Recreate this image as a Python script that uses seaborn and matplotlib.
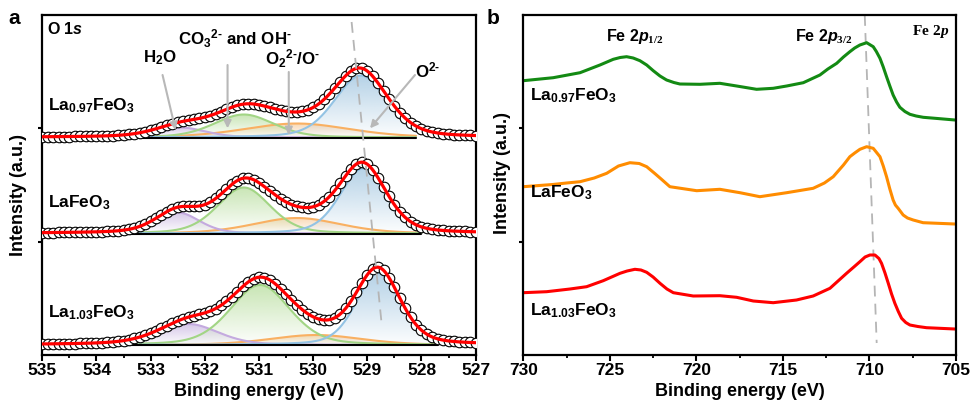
import numpy as np
import matplotlib
matplotlib.use("Agg")
import matplotlib.pyplot as plt
import seaborn as sns
from matplotlib.colors import LinearSegmentedColormap, to_rgb
from matplotlib.ticker import MultipleLocator

# ---------------- Panel a : O 1s fit (per sample: La0.97, LaFeO3, La1.03) ----------------
o1s_samples = ["La$_{0.97}$FeO$_3$", "LaFeO$_3$", "La$_{1.03}$FeO$_3$"]
o1s_offsets = [217.5, 121.5, 10.0]
o1s_bg_start = [533.4, 533.9, 533.7]
o1s_bg_end = [528.1, 528.0, 527.7]
# component peaks: center (eV), height, FWHM (eV)
latticeO_center = [529.12, 529.08, 528.80]
latticeO_height = [62.0, 65.0, 72.0]
latticeO_fwhm = [1.15, 1.00, 0.95]
peroxide_center = [530.30, 530.30, 529.95]
peroxide_height = [14.0, 15.5, 10.0]
peroxide_fwhm = [2.30, 1.90, 2.00]
hydroxyl_center = [531.28, 531.28, 530.98]
hydroxyl_height = [23.0, 46.0, 60.0]
hydroxyl_fwhm = [1.30, 1.15, 1.30]
water_center = [532.45, 532.50, 532.30]
water_height = [10.0, 21.0, 21.0]
water_fwhm = [1.10, 0.95, 1.30]

# ---------------- Panel b : Fe 2p spectra ----------------
fe_green_x = [730.0, 728.27, 726.72, 725.57, 724.80, 724.40, 724.03, 723.65, 723.26, 722.87,
              722.49, 722.10, 721.72, 721.30, 720.95, 719.79, 718.64, 717.67, 716.52, 715.56,
              714.78, 713.82, 712.86, 712.40, 711.89, 711.50, 711.13, 710.85, 710.55, 710.16,
              709.78, 709.60, 709.39, 709.20, 709.01, 708.82, 708.63, 708.43, 708.24, 707.95,
              707.66, 707.30, 706.89, 705.93, 705.06]
fe_green_y = [274.3, 277.3, 282.3, 290.0, 295.7, 297.5, 298.3, 297.0, 294.3, 290.0,
              284.3, 279.0, 275.0, 272.5, 271.0, 270.7, 271.7, 269.0, 265.7, 266.7,
              269.0, 272.3, 280.0, 286.0, 291.7, 298.0, 303.3, 307.0, 310.0, 312.3,
              308.3, 303.5, 296.7, 288.0, 278.3, 269.0, 260.0, 253.0, 247.7, 243.5,
              240.7, 239.0, 237.7, 236.3, 235.0]
fe_orange_x = [730.0, 728.30, 727.50, 726.72, 725.90, 725.18, 724.50, 723.84, 723.30, 722.87,
               722.40, 722.00, 721.53, 719.98, 718.64, 717.48, 716.33, 714.78, 713.25, 712.60,
               712.09, 711.50, 711.13, 710.85, 710.55, 710.16, 709.78, 709.39, 709.20, 709.01,
               708.82, 708.63, 708.50, 708.34, 708.05, 707.80, 707.47, 706.90, 705.06]
fe_orange_y = [168.3, 170.5, 172.0, 173.3, 177.0, 181.7, 189.0, 192.3, 191.5, 188.3,
               181.5, 175.5, 168.3, 164.3, 165.7, 162.3, 158.3, 162.3, 166.7, 172.0,
               178.3, 190.0, 198.3, 202.0, 205.7, 208.3, 206.7, 198.3, 189.0, 178.3,
               166.0, 155.0, 150.0, 146.7, 140.0, 137.0, 135.0, 132.3, 131.0]
fe_red_x = [730.0, 728.65, 727.30, 726.34, 725.38, 724.41, 724.00, 723.55, 723.20, 722.87,
            722.50, 722.10, 721.70, 721.33, 720.18, 718.64, 717.67, 716.71, 715.56, 714.21,
            713.25, 712.28, 711.32, 710.90, 710.55, 710.25, 709.97, 709.68, 709.45, 709.30,
            709.10, 708.91, 708.72, 708.53, 708.33, 708.14, 707.90, 707.66, 707.20, 706.70,
            705.06]
fe_red_y = [62.3, 63.3, 66.0, 68.3, 74.3, 81.7, 84.0, 85.7, 85.0, 82.7,
            78.0, 71.7, 66.0, 62.3, 59.0, 59.3, 57.7, 54.0, 52.3, 55.0,
            59.0, 66.7, 81.7, 88.0, 93.3, 98.0, 100.0, 100.0, 96.5, 91.7,
            82.0, 71.7, 61.0, 51.7, 43.5, 36.7, 32.5, 30.0, 28.5, 27.3,
            26.0]
fe_samples = ["La$_{0.97}$FeO$_3$", "LaFeO$_3$", "La$_{1.03}$FeO$_3$"]

# ---------------- style ----------------
sns.set_theme(style="ticks")
plt.rcParams["font.family"] = ["Liberation Sans", "DejaVu Sans"]
plt.rcParams["font.weight"] = "bold"
plt.rcParams["axes.labelweight"] = "bold"
plt.rcParams["text.color"] = "black"
plt.rcParams["axes.labelcolor"] = "black"
plt.rcParams["xtick.color"] = "black"
plt.rcParams["ytick.color"] = "black"
plt.rcParams["mathtext.fontset"] = "custom"
plt.rcParams["mathtext.rm"] = "Liberation Sans:bold"
plt.rcParams["mathtext.bf"] = "Liberation Sans:bold"
plt.rcParams["mathtext.it"] = "Liberation Sans:italic:bold"
plt.rcParams["mathtext.sf"] = "Liberation Serif:bold"
plt.rcParams["mathtext.cal"] = "Liberation Serif:italic:bold"

fig = plt.figure(figsize=(9.71, 4.0), dpi=100)
ax1 = fig.add_axes([0.04356, 0.1125, 0.4463, 0.85])
ax2 = fig.add_axes([0.5389, 0.1125, 0.4456, 0.85])


def pv(x, c, h, w, eta=0.3):
    d2 = ((x - c) / w) ** 2
    return h * ((1 - eta) * np.exp(-4 * np.log(2) * d2) + eta / (1 + 4 * d2))


def gradient_fill(ax, x, base, y, color, zorder):
    top = base + y.max()
    poly = ax.fill_between(x, base, base + y, facecolor="none", edgecolor="none", zorder=zorder)
    r, g, b = to_rgb(color)
    cmap = LinearSegmentedColormap.from_list("g", [(r, g, b, 0.03), (r, g, b, 0.9)])
    grad = np.linspace(0, 1, 128).reshape(-1, 1)
    im = ax.imshow(grad, cmap=cmap, aspect="auto", origin="lower",
                   extent=[x.min(), x.max(), base, top], zorder=zorder, interpolation="bilinear")
    im.set_clip_path(poly.get_paths()[0], transform=ax.transData)


comp_line = {"water": "#c4aadf", "hydroxyl": "#a2d585", "peroxide": "#f9b062", "lattice": "#93c3e4"}
comp_fill = {"water": "#d2c2e6", "hydroxyl": "#c3e3ad", "peroxide": "#f8d3ab", "lattice": "#adcde4"}

x_fit = np.linspace(535, 527, 801)
x_pts = np.round(np.arange(535.0, 526.95, -0.1), 2)

for i in range(3):
    base = o1s_offsets[i]
    comps = {
        "peroxide": (peroxide_center[i], peroxide_height[i], peroxide_fwhm[i]),
        "water": (water_center[i], water_height[i], water_fwhm[i]),
        "hydroxyl": (hydroxyl_center[i], hydroxyl_height[i], hydroxyl_fwhm[i]),
        "lattice": (latticeO_center[i], latticeO_height[i], latticeO_fwhm[i]),
    }
    mask = (x_fit <= o1s_bg_start[i]) & (x_fit >= o1s_bg_end[i])
    xc = x_fit[mask]
    for k, (c, h, w) in comps.items():
        yc = pv(xc, c, h, w)
        gradient_fill(ax1, xc, base, yc, comp_fill[k], zorder=1)
    for k, (c, h, w) in comps.items():
        yc = pv(xc, c, h, w)
        sns.lineplot(x=xc, y=base + yc, ax=ax1, color=comp_line[k], lw=1.5, sort=False,
                     estimator=None, zorder=2)
    ax1.plot([o1s_bg_start[i], o1s_bg_end[i]], [base, base], color="black", lw=1.5, zorder=3)
    env_pts = base + sum(pv(x_pts, *v) for v in comps.values())
    env_fit = base + sum(pv(x_fit, *v) for v in comps.values())
    ax1.plot(x_pts, env_pts, ls="none", marker="o", ms=7.6, mfc="white", mec="black",
             mew=0.8, zorder=4)
    sns.lineplot(x=x_fit, y=env_fit, ax=ax1, color="#ff0000", lw=2.3, sort=False,
                 estimator=None, zorder=5)

# dashed guide
ax1.plot([529.29, 528.73], [333, 28], color="#b5b5b5", lw=1.3, ls=(0, (6, 4)), zorder=6)

# labels panel a
ax1.text(534.91, 326, "O $\\mathit{1s}$", fontsize=11.5, fontweight="bold", ha="left", va="center")
lab_y_a = [249, 152, 42]
for i in range(3):
    ax1.text(534.9, lab_y_a[i], o1s_samples[i], fontsize=12.5, fontweight="bold",
             ha="left", va="center", zorder=7)

arrow_kw = dict(arrowstyle="-|>", color="#b8b8b8", lw=1.5, mutation_scale=11,
                shrinkA=0, shrinkB=0)
ann_fs = 12.2
ax1.text(532.83, 297, "H$_2$O", fontsize=ann_fs, ha="center", va="center")
ax1.annotate("", xy=(532.54, 225), xytext=(532.78, 280), arrowprops=arrow_kw, zorder=6)
ax1.text(531.45, 316, "CO$_3$$^{2\\text{-}}$ and OH$^{\\text{-}}$", fontsize=ann_fs,
         ha="center", va="center")
ax1.annotate("", xy=(531.58, 226.7), xytext=(531.58, 290), arrowprops=arrow_kw, zorder=6)
ax1.text(530.39, 296, "O$_2$$^{2\\text{-}}$/O$^{\\text{-}}$", fontsize=ann_fs, ha="center", va="center")
ax1.annotate("", xy=(530.45, 220), xytext=(530.45, 283), arrowprops=arrow_kw, zorder=6)
ax1.text(527.88, 285, "O$^{2\\text{-}}$", fontsize=ann_fs, ha="center", va="center")
ax1.annotate("", xy=(528.95, 226.7), xytext=(528.12, 280), arrowprops=arrow_kw, zorder=6)

ax1.set_xlim(535, 527)
ax1.set_ylim(0, 340)
ax1.set_xticks(list(range(527, 536)))
ax1.xaxis.set_minor_locator(MultipleLocator(0.5))

# ---------------- panel b ----------------
sns.lineplot(x=fe_green_x, y=fe_green_y, ax=ax2, color="#138a13", lw=2.2, sort=False, estimator=None)
sns.lineplot(x=fe_orange_x, y=fe_orange_y, ax=ax2, color="#ff8c00", lw=2.2, sort=False, estimator=None)
sns.lineplot(x=fe_red_x, y=fe_red_y, ax=ax2, color="#ff0000", lw=2.2, sort=False, estimator=None)
ax2.plot([710.27, 709.58], [340, 12], color="#b5b5b5", lw=1.3, ls=(0, (6, 4)), zorder=1)

ax2.text(723.55, 318, "Fe 2$p_{\\mathsf{1/2}}$", fontsize=11.5, ha="center", va="center")
ax2.text(712.63, 318, "Fe 2$p_{\\mathsf{3/2}}$", fontsize=11.5, ha="center", va="center")
ax2.text(706.45, 324, "$\\mathsf{Fe\\ 2}\\mathcal{p}$", fontsize=11, ha="center", va="center")
lab_y_b = [259, 162, 44]
for i in range(3):
    ax2.text(729.61, lab_y_b[i], fe_samples[i], fontsize=12.5, fontweight="bold",
             ha="left", va="center")

ax2.set_xlim(730, 705)
ax2.set_ylim(0, 340)
ax2.set_xticks([730, 725, 720, 715, 710, 705])
ax2.xaxis.set_minor_locator(MultipleLocator(2.5))

for ax in (ax1, ax2):
    ax.set_yticks([113, 227])
    ax.set_yticklabels([])
    for s in ax.spines.values():
        s.set_color("black")
        s.set_linewidth(1.6)
        s.set_visible(True)
    ax.tick_params(axis="x", which="major", direction="out", length=4, width=1.5,
                   labelsize=12.5, pad=2, colors="black")
    ax.tick_params(axis="x", which="minor", direction="out", length=2.5, width=1.3, colors="black")
    ax.tick_params(axis="y", which="major", direction="out", length=3, width=1.5, colors="black")
    ax.set_xlabel("Binding energy (eV)", fontsize=13, fontweight="bold", labelpad=3)
    ax.set_ylabel("Intensity (a.u.)", fontsize=13, fontweight="bold")
    for lab in ax.get_xticklabels():
        lab.set_fontweight("bold")

ax1.yaxis.set_label_coords(-0.035, 0.47)
ax2.yaxis.set_label_coords(-0.028, 0.535)

fig.text(14 / 971, 1 - 18 / 400, "a", fontsize=15, fontweight="bold", ha="center", va="center")
fig.text(493 / 971, 1 - 18 / 400, "b", fontsize=15, fontweight="bold", ha="center", va="center")

fig.savefig("out.png", dpi=100)
